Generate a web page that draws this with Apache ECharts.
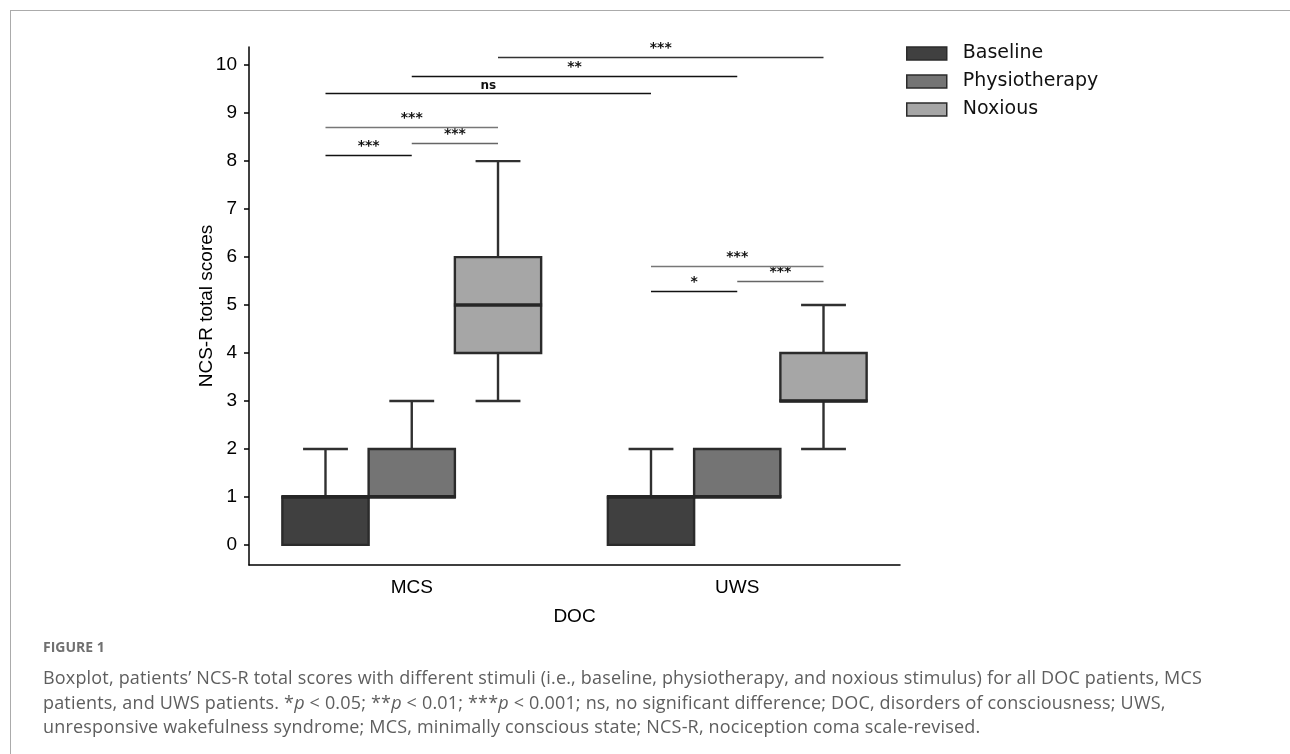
<!DOCTYPE html>
<html><head><meta charset="utf-8">
<script src="https://cdn.jsdelivr.net/npm/echarts@6/dist/echarts.min.js"></script>
<style>
html,body{margin:0;padding:0;width:1290px;height:754px;overflow:hidden;background:#fff;}
#frame{position:absolute;left:10px;top:10px;width:1300px;height:760px;border-left:1px solid #ababab;border-top:1px solid #ababab;}
#chart{position:absolute;left:0;top:0;width:1290px;height:754px;}
#fig{position:absolute;left:43px;top:637px;font-family:"Open Sans";font-weight:700;font-size:14px;color:#707070;white-space:nowrap;}
#cap{position:absolute;left:43px;top:665px;font-family:"Open Sans";font-size:18px;letter-spacing:0.18px;line-height:24.5px;color:#5e5e5e;white-space:nowrap;}
</style></head>
<body>
<div id="frame"></div>
<div id="chart"></div>
<div id="fig">FIGURE 1</div>
<div id="cap">Boxplot, patients’ NCS-R total scores with different stimuli (i.e., baseline, physiotherapy, and noxious stimulus) for all DOC patients, MCS<br>patients, and UWS patients. *<i>p</i> &lt; 0.05; **<i>p</i> &lt; 0.01; ***<i>p</i> &lt; 0.001; ns, no significant difference; DOC, disorders of consciousness; UWS,<br>unresponsive wakefulness syndrome; MCS, minimally conscious state; NCS-R, nociception coma scale-revised.</div>
<script>
// ---- data ----
const categories = ['MCS', 'UWS'];
const groupNames = ['Baseline', 'Physiotherapy', 'Noxious'];
// [min, q1, median, q3, max] per category
const baselineStats = [[0, 0, 1, 1, 2], [0, 0, 1, 1, 2]];
const physioStats   = [[1, 1, 1, 2, 3], [1, 1, 1, 2, 2]];
const noxiousStats  = [[3, 4, 5, 6, 8], [2, 3, 3, 4, 5]];
const yTickValues = [0, 1, 2, 3, 4, 5, 6, 7, 8, 9, 10];
// significance brackets: [category, group] endpoints, height (axis value), label
const sigStart  = [[0, 0], [0, 1], [0, 0], [0, 0], [0, 1], [0, 2], [1, 0], [1, 1], [1, 0]];
const sigEnd    = [[0, 1], [0, 2], [0, 2], [1, 0], [1, 1], [1, 2], [1, 1], [1, 2], [1, 2]];
const sigHeight = [8.13, 8.38, 8.71, 9.42, 9.77, 10.17, 5.29, 5.5, 5.81];
const sigLabels = ['***', '***', '***', 'ns', '**', '***', '*', '***', '***'];

// ---- styles ----
const fills = ['#404040', '#747474', '#a6a6a6'];
const sigTone = ['#111', '#666', '#777', '#111', '#111', '#333', '#111', '#666', '#777'];
const BOX_FRAC = 0.265;

const chart = echarts.init(document.getElementById('chart'), null, {renderer: 'canvas'});

function boxRender(grp) {
  return function (params, api) {
    const cat = api.value(0);
    const vmin = api.value(1), q1 = api.value(2), med = api.value(3), q3 = api.value(4), vmax = api.value(5);
    const bw = api.size([1, 0])[0];
    const w = bw * BOX_FRAC;
    const cx = api.coord([cat, 0])[0] + (grp - 1) * w;
    const y = v => api.coord([cat, v])[1];
    const capHalf = w * 0.26;
    const ws = {stroke: '#303030', lineWidth: 2.4};
    const ch = [];
    if (vmax > q3) {
      ch.push({type: 'line', shape: {x1: cx, y1: y(q3), x2: cx, y2: y(vmax)}, style: ws});
      ch.push({type: 'line', shape: {x1: cx - capHalf, y1: y(vmax), x2: cx + capHalf, y2: y(vmax)}, style: ws});
    }
    if (vmin < q1) {
      ch.push({type: 'line', shape: {x1: cx, y1: y(q1), x2: cx, y2: y(vmin)}, style: ws});
      ch.push({type: 'line', shape: {x1: cx - capHalf, y1: y(vmin), x2: cx + capHalf, y2: y(vmin)}, style: ws});
    }
    ch.push({type: 'rect', shape: {x: cx - w / 2, y: y(q3), width: w, height: y(q1) - y(q3)},
      style: {fill: fills[grp], stroke: '#2b2b2b', lineWidth: 2.4}});
    ch.push({type: 'line', shape: {x1: cx - w / 2 - 1, y1: y(med), x2: cx + w / 2 + 1, y2: y(med)},
      style: {stroke: '#262626', lineWidth: 3.6}});
    return {type: 'group', children: ch};
  };
}

function toData(stats) { return stats.map((s, i) => [i].concat(s)); }

const sigData = sigStart.map((s, i) => [s[0], s[1], sigEnd[i][0], sigEnd[i][1], sigHeight[i], i]);

function sigRender(params, api) {
  const bw = api.size([1, 0])[0];
  const w = bw * BOX_FRAC;
  const h = api.value(4);
  const idx = api.value(5);
  const p1 = api.coord([api.value(0), h]);
  const p2 = api.coord([api.value(2), h]);
  const x1 = p1[0] + (api.value(1) - 1) * w;
  const x2 = p2[0] + (api.value(3) - 1) * w;
  const yy = Math.round(p1[1]) + 0.5;
  const lbl = sigLabels[idx];
  return {type: 'group', children: [
    {type: 'line', shape: {x1: x1, y1: yy, x2: x2, y2: yy}, style: {stroke: sigTone[idx], lineWidth: 1.3}},
    {type: 'text', x: (x1 + x2) / 2, y: yy - 2,
      style: {text: lbl, align: 'center', verticalAlign: 'bottom',
        font: lbl === 'ns' ? 'bold 12px "DejaVu Sans"' : 'bold 14px "DejaVu Sans"', fill: '#111'}}
  ]};
}

const statsList = [baselineStats, physioStats, noxiousStats];

const option = {
  animation: false,
  grid: {left: 249, right: 390, top: 47, bottom: 189},
  legend: {
    orient: 'vertical', left: 906, top: 44, itemWidth: 40, itemHeight: 13, itemGap: 9,
    padding: 0,
    icon: 'rect',
    textStyle: {fontFamily: 'DejaVu Sans', fontSize: 19, color: '#111', padding: [0, 0, 0, 11]},
    data: groupNames.map((n, i) => ({name: n, itemStyle: {color: fills[i], borderColor: '#2b2b2b', borderWidth: 1.5}}))
  },
  xAxis: {
    type: 'category', data: categories,
    name: 'DOC', nameLocation: 'middle', nameGap: 42, nameMoveOverlap: false,
    nameTextStyle: {fontFamily: 'Liberation Sans', fontSize: 19, color: '#000'},
    axisLine: {onZero: false, lineStyle: {color: '#000', width: 1.5}},
    axisTick: {alignWithLabel: true, length: 6, lineStyle: {color: '#000', width: 1.5}},
    axisLabel: {fontFamily: 'Liberation Sans', fontSize: 19, color: '#000', margin: 13},
    splitLine: {show: false}
  },
  yAxis: {
    type: 'value', min: -0.42, max: 10.38,
    name: 'NCS-R total scores', nameLocation: 'middle', nameGap: 33, nameRotate: 90, nameMoveOverlap: false,
    nameTextStyle: {fontFamily: 'Liberation Sans', fontSize: 19, color: '#000'},
    axisLine: {show: true, onZero: false, lineStyle: {color: '#000', width: 1.5}},
    axisTick: {show: true, length: 5, customValues: yTickValues, lineStyle: {color: '#000', width: 1.5}},
    axisLabel: {fontFamily: 'Liberation Sans', fontSize: 19, color: '#000', margin: 12, customValues: yTickValues},
    splitLine: {show: false}
  },
  series: groupNames.map((n, g) => ({
    name: n, type: 'custom', renderItem: boxRender(g),
    itemStyle: {color: fills[g], borderColor: '#2b2b2b', borderWidth: 1.5},
    encode: {x: 0, y: [1, 2, 3, 4, 5]},
    data: toData(statsList[g])
  })).concat([{
    name: 'sig', type: 'custom', renderItem: sigRender, silent: true,
    encode: {x: 0, y: 4},
    data: sigData
  }])
};
chart.setOption(option);
</script>
</body></html>
